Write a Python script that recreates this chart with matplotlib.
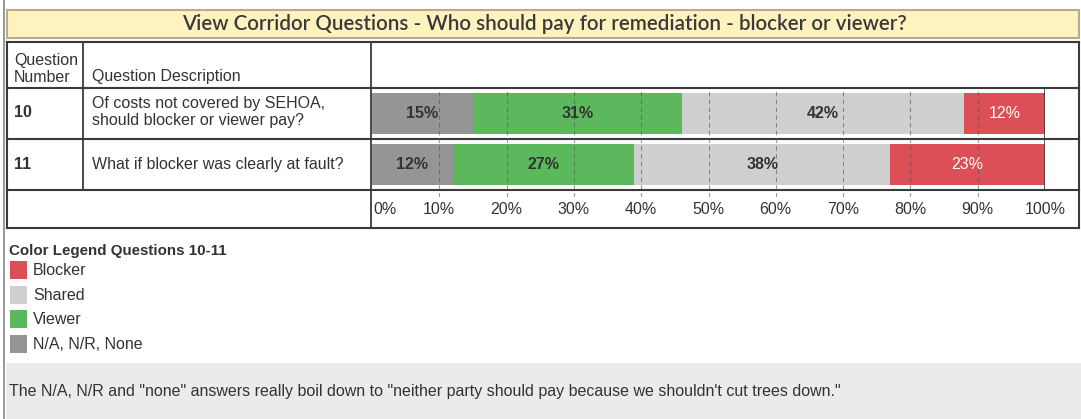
import matplotlib.pyplot as plt
import numpy as np

W, H = 1081, 419

questions = ["10", "11"]
descriptions = ["Of costs not covered by SEHOA,\nshould blocker or viewer pay?",
                "What if blocker was clearly at fault?"]
categories = ["N/A, N/R, None", "Viewer", "Shared", "Blocker"]
na_vals = [15, 12]
viewer_vals = [31, 27]
shared_vals = [42, 38]
blocker_vals = [12, 23]
ticks = [0, 10, 20, 30, 40, 50, 60, 70, 80, 90, 100]

colors = {"Blocker": "#dc4f56", "Shared": "#cfcfcf", "Viewer": "#5cb85c",
          "N/A, N/R, None": "#959595"}
text_col = "#333333"
font = "Liberation Sans"
fs = 11.5

fig = plt.figure(figsize=(W / 100, H / 100), dpi=100)

# pixel axes for the table frame and texts
bg = fig.add_axes([0, 0, 1, 1])
bg.set_xlim(0, W)
bg.set_ylim(H, 0)
bg.axis("off")

# title band
bg.add_patch(plt.Rectangle((7, 10), 1072, 28, facecolor="#fef3bf",
                           edgecolor="#b5ad8c", linewidth=1.5))
bg.text(544, 24, "View Corridor Questions - Who should pay for remediation - blocker or viewer?",
        ha="center", va="center", fontsize=14.8, color="#3a3a3a", family="Lato",
        fontweight="semibold")

# bottom gray note band
bg.add_patch(plt.Rectangle((6, 363), W - 6, H - 363, facecolor="#ebebeb",
                           edgecolor="none"))
bg.text(9, 391, "The N/A, N/R and \"none\" answers really boil down to \"neither party should pay "
        "because we shouldn't cut trees down.\"", ha="left", va="center",
        fontsize=fs, color=text_col, family=font)

# outer left frame
bg.plot([4, 4], [0, H], color="#888888", lw=1.2)

# table grid
lc = "#3a3a3a"
for y in [42, 88, 139, 190, 228]:
    bg.plot([7, 1079], [y, y], color=lc, lw=1.5)
bg.plot([7, 7], [42, 228], color=lc, lw=1.5)
bg.plot([1079, 1079], [42, 228], color=lc, lw=1.5)
bg.plot([83, 83], [42, 190], color=lc, lw=1.3)
bg.plot([371, 371], [42, 228], color=lc, lw=1.3)

# header
bg.text(14, 69, "Question\nNumber", ha="left", va="center", fontsize=fs,
        color=text_col, family=font, linespacing=1.18)
bg.text(92, 77, "Question Description", ha="left", va="center", fontsize=fs,
        color=text_col, family=font)

row_y = [112, 164.5]
for q, d, y in zip(questions, descriptions, row_y):
    bg.text(14, y, q, ha="left", va="center", fontsize=fs, color=text_col,
            family=font, fontweight="bold")
    bg.text(92, y, d, ha="left", va="center", fontsize=fs, color=text_col,
            family=font, linespacing=1.18)

# bar axes
x0, x1 = 372, 1045
ax = fig.add_axes([x0 / W, 1 - 197 / H, (x1 - x0) / W, (197 - 88) / H])
ax.set_xlim(0, 100)
ax.set_ylim(1.5 + 7 / 51, -0.5)
ax.axis("off")

ypos = np.arange(len(questions))
series = [("N/A, N/R, None", na_vals), ("Viewer", viewer_vals),
          ("Shared", shared_vals), ("Blocker", blocker_vals)]
left = np.zeros(len(questions))
for name, vals in series:
    vals = np.array(vals, dtype=float)
    ax.barh(ypos, vals, left=left, height=0.81, color=colors[name], zorder=1)
    for i, v in enumerate(vals):
        white = name == "Blocker"
        ax.text(left[i] + v / 2, ypos[i], f"{int(v)}%", ha="center", va="center",
                fontsize=fs, fontweight="normal" if white else "bold", family=font,
                color="white" if white else text_col, zorder=3)
    left += vals

for t in ticks[1:-1]:
    ax.axvline(t, color="#555555", lw=0.8, ls=(0, (4, 3)), alpha=0.6, zorder=2)
ax.plot([100, 100], [-0.5, 1.5], color=lc, lw=1.2, zorder=2)

# tick labels
for t in ticks:
    bx = x0 + (x1 - x0) * t / 100
    bg.text(bx + (1 if t == 0 else 0), 209, f"{t}%", ha="left" if t == 0 else "center",
            va="center", fontsize=fs, color=text_col, family=font)

# legend
bg.text(9, 251, "Color Legend Questions 10-11", ha="left", va="center",
        fontsize=10.9, fontweight="bold", color=text_col, family=font)
leg_y = [270, 295, 319, 344]
for name, y in zip(["Blocker", "Shared", "Viewer", "N/A, N/R, None"], leg_y):
    bg.add_patch(plt.Rectangle((10, y - 9), 17, 18, facecolor=colors[name],
                               edgecolor="none"))
    bg.text(33, y, name, ha="left", va="center", fontsize=fs, color=text_col,
            family=font)

fig.savefig("out.png", dpi=100)
